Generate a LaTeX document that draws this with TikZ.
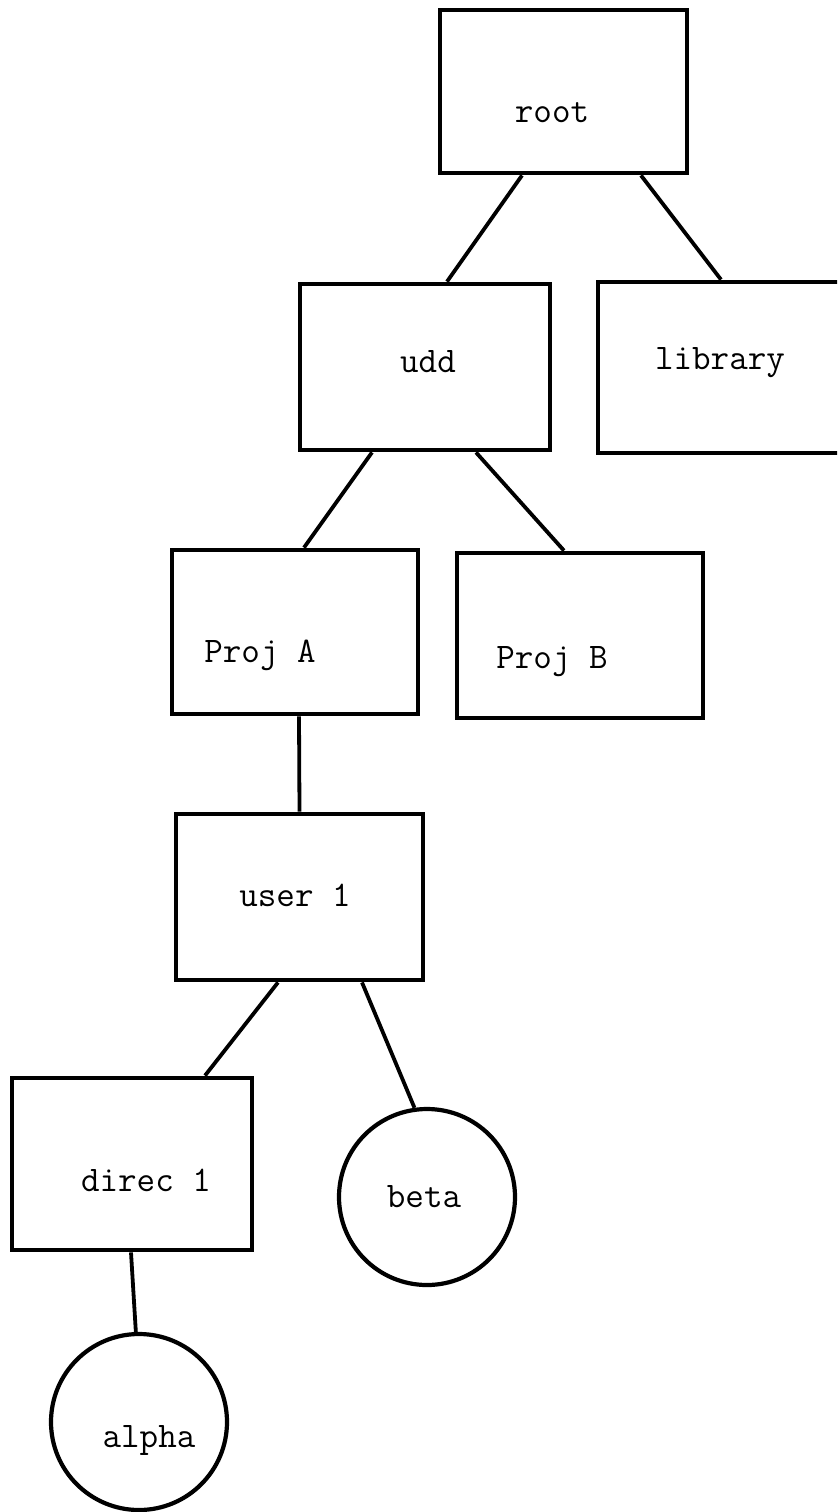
\documentclass[tikz,border=0pt]{standalone}
\usepackage{fontspec}

\begin{document}
\begin{tikzpicture}[x=0.5pt, y=-0.5pt,
    directory/.style ={rectangle, draw, line width=2.4pt, inner sep=0pt},
    file/.style ={circle, draw, line width=2.1pt, inner sep=0pt, minimum size=88pt},
    dirlabel/.style ={font=\ttfamily\fontsize{18}{21}\selectfont, inner sep=0pt},
    branch/.style ={line width=1.9pt}]
   \clip (0,0) rectangle (837,1512);
   \node[directory, minimum width=123.5pt, minimum height=81.5pt] (root)  at (563.5,91.5)  {};
   \node[directory, minimum width=125pt, minimum height=83pt] (udd)  at (425,367)  {};
   \node[directory, minimum width=126pt, minimum height=85.5pt] (library)  at (724,367.5)  {};
   \node[directory, minimum width=123pt, minimum height=82pt] (projA)  at (295,632)  {};
   \node[directory, minimum width=123pt, minimum height=82.5pt] (projB)  at (580,635.5)  {};
   \node[directory, minimum width=123.5pt, minimum height=83pt] (user)  at (299.5,897)  {};
   \node[directory, minimum width=120pt, minimum height=86pt] (direc)  at (132,1164)  {};
   \node[file] (beta)  at (427,1197)  {};
   \node[file] (alpha)  at (139,1422)  {};
   \node[dirlabel] (rootname)  at (552,113)  {root};
   \node[dirlabel] (uddname)  at (428,362)  {udd};
   \node[dirlabel] (libraryname)  at (720,363)  {library};
   \node[dirlabel] (projAname)  at (260,655)  {Proj A};
   \node[dirlabel] (projBname)  at (552,662)  {Proj B};
   \node[dirlabel] (username)  at (295,895)  {user 1};
   \node[dirlabel] (direcname)  at (146,1180)  {direc 1};
   \node[dirlabel] (betaname)  at (424,1197)  {beta};
   \node[dirlabel] (alphaname)  at (149,1440)  {alpha};
   \draw[branch] ([xshift=-20.75pt]root.south) to  ([xshift=11pt]udd.north);
   \draw[branch] ([xshift=38.75pt]root.south) to  ([xshift=-1.5pt]library.north);
   \draw[branch] ([xshift=-26.5pt]udd.south) to  ([xshift=4.5pt]projA.north);
   \draw[branch] ([xshift=25.5pt]udd.south) to  ([xshift=-8pt]projB.north);
   \draw[branch] ([xshift=2pt]projA.south) to  (user.north);
   \draw[branch] ([xshift=-10.75pt]user.south) to  ([xshift=36.5pt]direc.north);
   \draw[branch] ([xshift=31.25pt]user.south) to  (beta.98);
   \draw[branch] ([xshift=-0.5pt]direc.south) to  (alpha.92);
 \end{tikzpicture}
\end{document}
